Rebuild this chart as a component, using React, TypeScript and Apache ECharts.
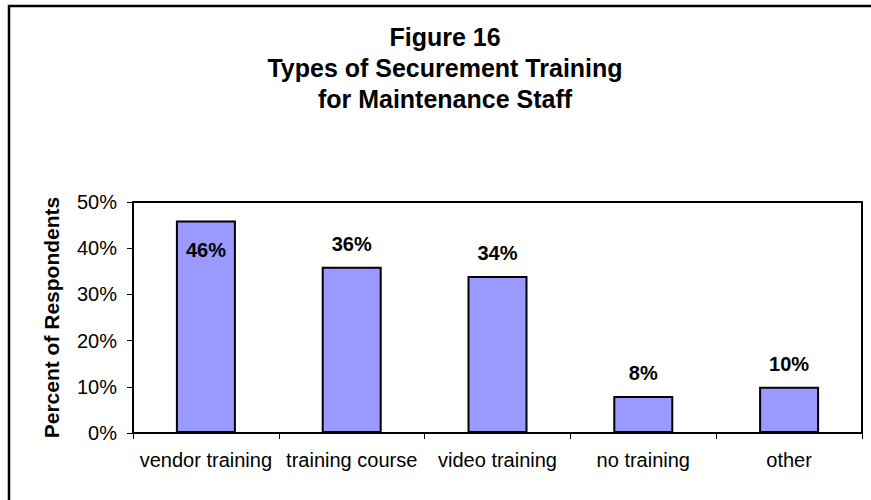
import React, { useEffect, useRef } from "react";
import * as echarts from "echarts";

const titleLines = ["Figure 16", "Types of Securement Training", "for Maintenance Staff"];
const categories = ["vendor training", "training course", "video training", "no training", "other"];
const values = [46, 36, 34, 8, 10];
const yAxisName = "Percent of Respondents";
const yMin = 0;
const yMax = 50;
const yInterval = 10;

const FONT = "'Liberation Sans', Arial, Helvetica, sans-serif";

export default function App() {
  const ref = useRef<HTMLDivElement>(null);
  useEffect(() => {
    if (!ref.current) return;
    const chart = echarts.init(ref.current, null, { renderer: "svg" });
    const data = values.map((v, i) =>
      i === 0
        ? { value: v, label: { position: "insideTop", distance: 20 } }
        : { value: v }
    );
    chart.setOption({
      animation: false,
      backgroundColor: "#ffffff",
      textStyle: { fontFamily: FONT },
      graphic: [
        {
          type: "rect",
          shape: { x: 9, y: 6, width: 870, height: 500 },
          style: { fill: "none", stroke: "#000", lineWidth: 2.5 },
          silent: true,
          z: 100,
        },
        {
          type: "text",
          x: 445,
          y: 21,
          style: {
            text: titleLines.join("\n"),
            font: `bold 25px ${FONT}`,
            fill: "#000",
            textAlign: "center",
            textVerticalAlign: "top",
            lineHeight: 31,
          },
        },
      ],
      grid: {
        left: 133,
        right: 9,
        top: 202,
        bottom: 67,
        show: true,
        borderColor: "#000",
        borderWidth: 2,
        backgroundColor: "#fff",
      },
      xAxis: {
        type: "category",
        data: categories,
        axisLine: { show: true, lineStyle: { color: "#000", width: 2 } },
        axisTick: { show: true, alignWithLabel: false, length: 6, lineStyle: { color: "#000", width: 1 } },
        axisLabel: { color: "#000", fontSize: 20, fontFamily: FONT, margin: 17, interval: 0 },
      },
      yAxis: {
        type: "value",
        min: yMin,
        max: yMax,
        interval: yInterval,
        name: yAxisName,
        nameLocation: "middle",
        nameGap: 71,
        nameTextStyle: { color: "#000", fontSize: 21, fontWeight: "bold", fontFamily: FONT },
        axisLine: { show: true, lineStyle: { color: "#000", width: 2 } },
        axisTick: { show: true, length: 6, lineStyle: { color: "#000", width: 1 } },
        axisLabel: { color: "#000", fontSize: 20, fontFamily: FONT, margin: 16, formatter: "{value}%" },
        splitLine: { show: false },
      },
      series: [
        {
          type: "bar",
          data,
          barWidth: 60,
          itemStyle: { color: "#9999FF", borderColor: "#000", borderWidth: 2 },
          label: {
            show: true,
            position: "top",
            distance: 13,
            formatter: "{c}%",
            color: "#000",
            fontSize: 20,
            fontWeight: "bold",
            fontFamily: FONT,
          },
        },
      ],
    });
    return () => chart.dispose();
  }, []);
  return (
    <div
      ref={ref}
      style={{ position: "fixed", left: 0, top: 0, width: 871, height: 500 }}
    />
  );
}
